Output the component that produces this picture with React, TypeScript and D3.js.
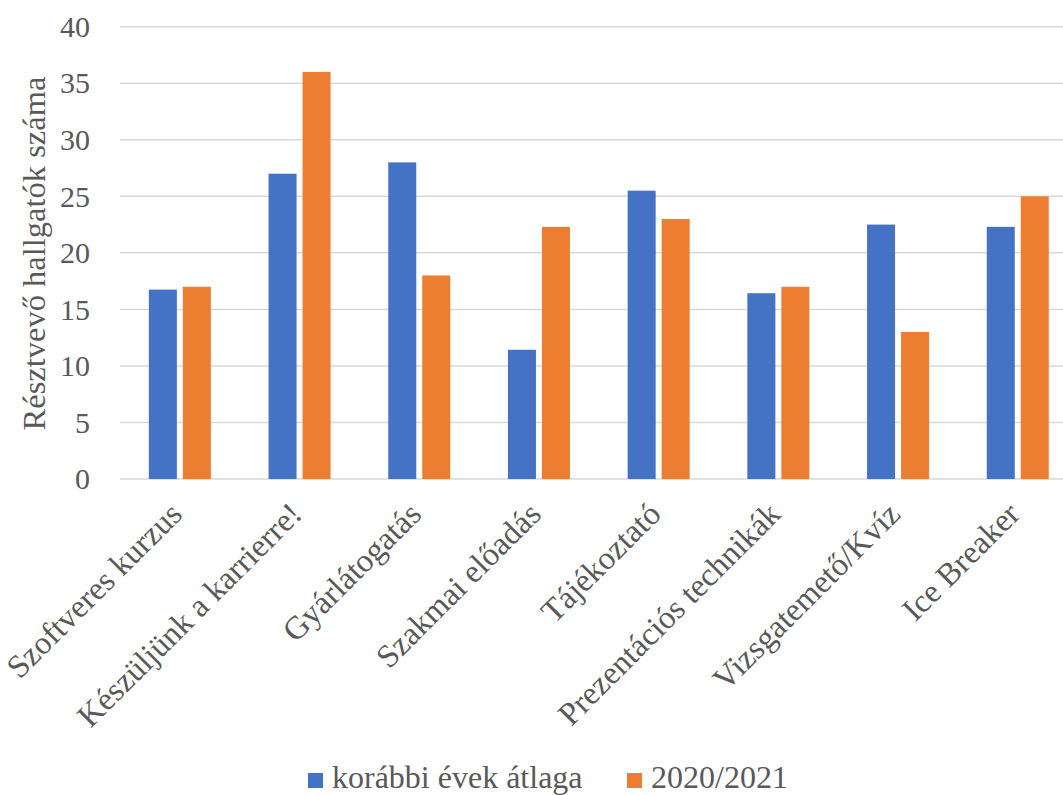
import React from "react";
import * as d3 from "d3";

const categories = [
  "Szoftveres kurzus",
  "Készüljünk a karrierre!",
  "Gyárlátogatás",
  "Szakmai előadás",
  "Tájékoztató",
  "Prezentációs technikák",
  "Vizsgatemető/Kvíz",
  "Ice Breaker",
];
const seriesNames = ["korábbi évek átlaga", "2020/2021"];
const previousAvg = [16.75, 27, 28, 11.43, 25.5, 16.43, 22.5, 22.3];
const year2020 = [17, 36, 18, 22.3, 23, 17, 13, 25];
const yTicks = [0, 5, 10, 15, 20, 25, 30, 35, 40];
const colors = ["#4472C4", "#ED7D31"];

const W = 1063;
const H = 795;
const left = 120;
const step = 119.7;
const top = 26.7;
const bottom = 479;
const FONT = "'Liberation Serif', 'Times New Roman', serif";

export default function App() {
  const x0 = d3
    .scaleBand<string>()
    .domain(categories)
    .range([left, left + step * categories.length])
    .paddingInner(0.482)
    .paddingOuter(0.241);
  const x1 = d3
    .scaleBand<number>()
    .domain([0, 1])
    .range([0, x0.bandwidth()])
    .paddingInner(0.176)
    .paddingOuter(0);
  const y = d3.scaleLinear().domain([0, 40]).range([bottom, top]);
  const series = [previousAvg, year2020];

  return (
    <svg width={W} height={H} style={{ display: "block", background: "#fff" }}>
      <style>{`body{margin:0}`}</style>
      {yTicks.map((t) => (
        <g key={t}>
          <line x1={left} x2={W} y1={y(t)} y2={y(t)} stroke="#D9D9D9" strokeWidth={1.5} />
          <text
            x={90}
            y={y(t)}
            dy="0.34em"
            textAnchor="end"
            fontFamily={FONT}
            fontSize={30}
            fill="#595959"
          >
            {t}
          </text>
        </g>
      ))}
      {series.map((vals, si) =>
        vals.map((v, i) => (
          <rect
            key={`${si}-${i}`}
            x={(x0(categories[i]) as number) + (x1(si) as number)}
            y={y(v)}
            width={x1.bandwidth()}
            height={y(0) - y(v)}
            fill={colors[si]}
          />
        ))
      )}
      <text
        transform={`translate(45,253.5) rotate(-90)`}
        textAnchor="middle"
        fontFamily={FONT}
        fontSize={32.5}
        fill="#595959"
      >
        Résztvevő hallgatók száma
      </text>
      {categories.map((c) => {
        const cx = (x0(c) as number) + x0.bandwidth() / 2;
        return (
          <text
            key={c}
            transform={`translate(${cx + 4},${516}) rotate(-45)`}
            textAnchor="end"
            fontFamily={FONT}
            fontSize={32.5}
            fill="#595959"
          >
            {c}
          </text>
        );
      })}
      {seriesNames.map((n, i) => {
        const lx = i === 0 ? 308 : 627;
        return (
          <g key={n}>
            <rect x={lx} y={773} width={15} height={15} fill={colors[i]} />
            <text x={lx + 24} y={788} fontFamily={FONT} fontSize={32} fill="#595959">
              {n}
            </text>
          </g>
        );
      })}
    </svg>
  );
}
